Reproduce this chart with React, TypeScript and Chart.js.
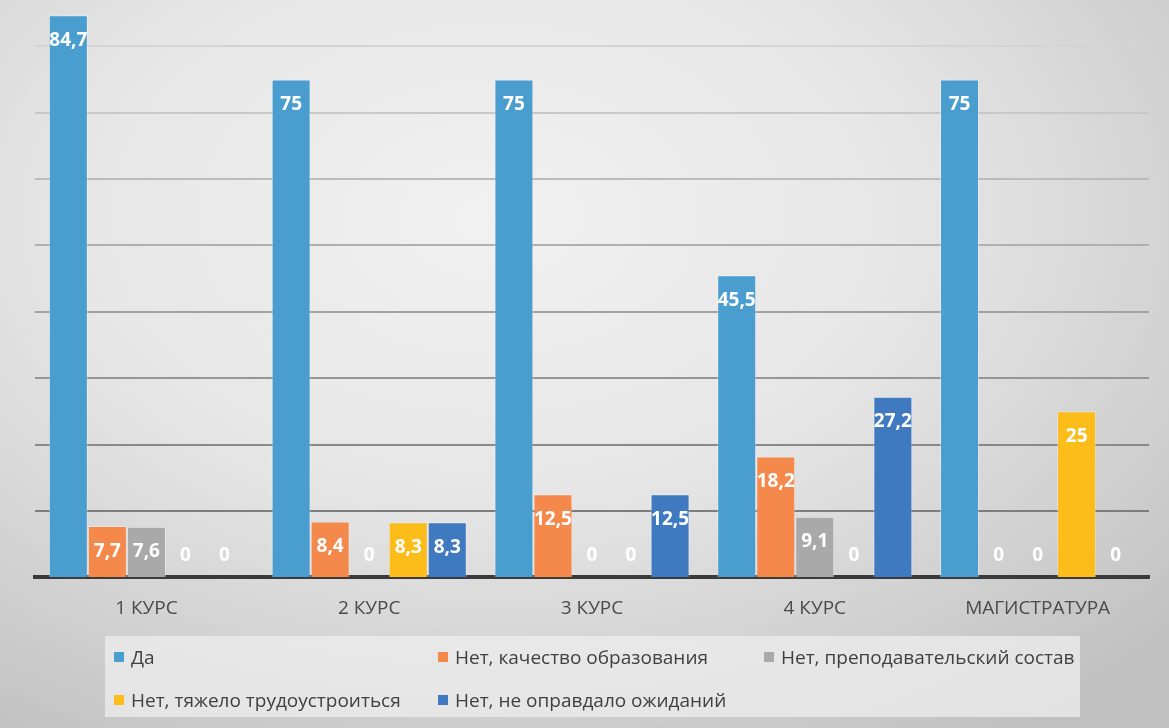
import React, { useEffect, useRef } from "react";
import { Chart, registerables } from "chart.js";

Chart.register(...registerables);

const categories = ["1 КУРС", "2 КУРС", "3 КУРС", "4 КУРС", "МАГИСТРАТУРА"];
const seriesNames = [
  "Да",
  "Нет, качество образования",
  "Нет, преподавательский состав",
  "Нет, тяжело трудоустроиться",
  "Нет, не оправдало ожиданий",
];
const daValues = [84.7, 75, 75, 45.5, 75];
const qualityValues = [7.7, 8.4, 12.5, 18.2, 0];
const staffValues = [7.6, 0, 0, 9.1, 0];
const jobValues = [0, 8.3, 0, 0, 25];
const expectationValues = [0, 8.3, 12.5, 27.2, 0];
const seriesColors = ["#4a9ecf", "#f4894b", "#a9a9a9", "#fcbd1b", "#3f79bf"];
const seriesValues = [daValues, qualityValues, staffValues, jobValues, expectationValues];

const FONT = "'Open Sans', 'Liberation Sans', sans-serif";

const labelPlugin = {
  id: "barLabels",
  afterDatasetsDraw(chart: any) {
    const ctx = chart.ctx;
    ctx.save();
    ctx.font = `bold 19px ${FONT}`;
    ctx.fillStyle = "#ffffff";
    ctx.textAlign = "center";
    ctx.textBaseline = "middle";
    chart.data.datasets.forEach((ds: any, di: number) => {
      const meta = chart.getDatasetMeta(di);
      meta.data.forEach((el: any, i: number) => {
        const v = ds.data[i];
        const y = Math.min(el.y + 25, el.base - 22);
        ctx.fillText(String(v).replace(".", ","), el.x, y);
      });
    });
    ctx.restore();
  },
};

function gridColor(v: number) {
  if (v <= 0 || v % 10 !== 0) return "rgba(0,0,0,0)";
  const t = (v - 10) / 70; // 0 at bottom line, 1 at top line
  const c = Math.round(125 + t * (212 - 125));
  return `rgb(${c},${c},${c})`;
}

export default function App() {
  const canvasRef = useRef<HTMLCanvasElement | null>(null);

  useEffect(() => {
    document.body.style.margin = "0";
    const chart = new Chart(canvasRef.current as HTMLCanvasElement, {
      type: "bar",
      data: {
        labels: categories,
        datasets: seriesNames.map((name, i) => ({
          label: name,
          data: seriesValues[i],
          backgroundColor: seriesColors[i],
          borderColor: "rgba(255,255,255,0.35)",
          borderWidth: 1,
          barPercentage: 1,
          categoryPercentage: 0.876,
        })),
      },
      options: {
        animation: false,
        responsive: false,
        maintainAspectRatio: false,
        layout: { padding: { left: 35, right: 20, top: 0, bottom: 10 } },
        plugins: {
          legend: { display: false },
          tooltip: { enabled: false },
        },
        scales: {
          x: {
            grid: { display: false, drawTicks: false },
            border: { display: true, color: "#3a3a3a", width: 4 },
            ticks: {
              color: "#4a4a4a",
              font: { family: FONT, size: 19 },
              padding: 20,
            },
          },
          y: {
            min: 0,
            max: 87,
            afterBuildTicks: (axis: any) => {
              axis.ticks = [10, 20, 30, 40, 50, 60, 70, 80].map((v) => ({ value: v }));
            },
            ticks: { display: false },
            border: { display: false },
            grid: {
              drawTicks: false,
              lineWidth: 2,
              color: (ctx: any) => gridColor(ctx.tick ? ctx.tick.value : 0),
            },
          },
        },
      },
      plugins: [labelPlugin],
    });
    return () => chart.destroy();
  }, []);

  const legendCols = [114, 438, 764];
  const legendRows = [657, 700];

  return (
    <div
      style={{
        position: "absolute",
        left: 0,
        top: 0,
        width: 1169,
        height: 728,
        overflow: "hidden",
        background:
          "radial-gradient(ellipse 80% 85% at 42% 30%, #f1f1f1 0%, #e6e6e6 45%, #d2d2d2 75%, #c0c0c0 100%)",
      }}
    >
      <canvas
        ref={canvasRef}
        width={1169}
        height={650}
        style={{ position: "absolute", left: 0, top: 0, width: 1169, height: 650 }}
      />
      <div
        style={{
          position: "absolute",
          left: 105,
          top: 636,
          width: 975,
          height: 81,
          background: "rgba(238,238,238,0.75)",
        }}
      />
      {seriesNames.map((name, i) => {
        const col = i < 3 ? i : i - 3;
        const row = i < 3 ? 0 : 1;
        return (
          <div
            key={name}
            style={{
              position: "absolute",
              left: legendCols[col],
              top: legendRows[row] - 13,
              height: 26,
              display: "flex",
              alignItems: "center",
              fontFamily: FONT,
              fontSize: 19,
              color: "#404040",
              whiteSpace: "nowrap",
            }}
          >
            <span
              style={{
                display: "inline-block",
                width: 10,
                height: 10,
                background: seriesColors[i],
                marginRight: 7,
              }}
            />
            {name}
          </div>
        );
      })}
    </div>
  );
}
